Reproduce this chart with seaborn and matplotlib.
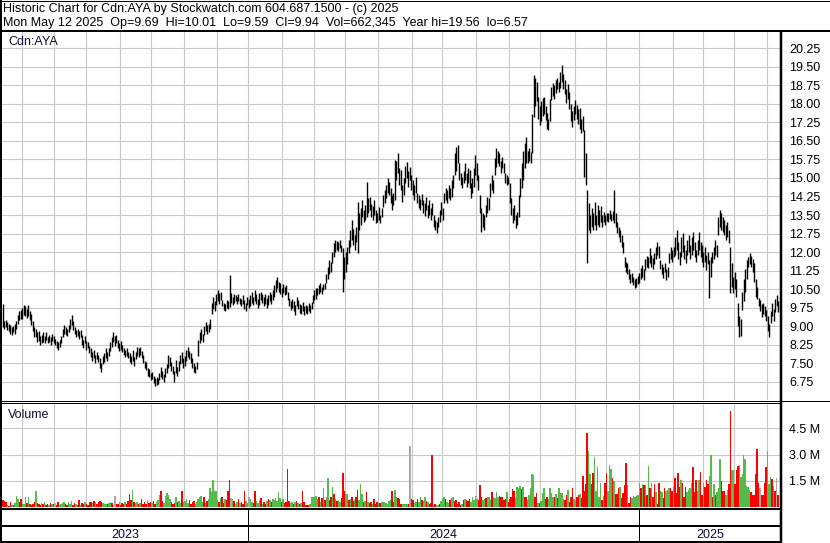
import numpy as np
import pandas as pd
import seaborn as sns
import matplotlib.pyplot as plt
from matplotlib.lines import Line2D

W, H = 830, 543  # output size in pixels

sns.set_style('white')
plt.rcParams['font.family'] = ['Liberation Sans', 'DejaVu Sans']

title_1 = 'Historic Chart for Cdn:AYA by Stockwatch.com 604.687.1500 - (c) 2025'
title_2 = ('Mon May 12 2025  Op=9.69  Hi=10.01  Lo=9.59  Cl=9.94  '
           'Vol=662,345  Year hi=19.56  lo=6.57')
symbol = 'Cdn:AYA'

# one bar per weekday, May 15 2023 .. May 12 2025
dates = pd.bdate_range('2023-05-15', '2025-05-12')

# daily low / high (C$)
low = [
    8.95, 8.90, 8.95, 8.85, 8.80, 8.70, 8.65, 8.75, 8.70, 8.90,
    9.10, 9.25, 9.30, 9.30, 9.45, 9.40, 9.35, 9.40, 9.25, 9.05,
    8.80, 8.57, 8.55, 8.35, 8.40, 8.25, 8.30, 8.35, 8.30, 8.45,
    8.30, 8.35, 8.25, 8.40, 8.30, 8.25, 8.10, 8.05, 8.15, 8.30,
    8.55, 8.70, 8.65, 8.60, 8.75, 8.90, 9.05, 8.85, 8.70, 8.55,
    8.60, 8.50, 8.55, 8.25, 8.10, 8.30, 8.05, 8.10, 7.90, 7.75,
    7.60, 7.70, 7.50, 7.65, 7.55, 7.30, 7.16, 7.45, 7.55, 7.70,
    7.60, 7.80, 8.00, 8.15, 8.35, 8.20, 8.30, 8.10, 8.00, 8.05,
    7.97, 7.85, 7.75, 7.80, 7.70, 7.55, 7.45, 7.60, 7.40, 7.65,
    7.80, 7.75, 7.85, 7.70, 7.50, 7.30, 7.22, 7.00, 6.95, 6.80,
    6.85, 6.70, 6.57, 6.62, 6.65, 6.80, 6.95, 6.85, 6.75, 6.95,
    7.10, 7.30, 7.40, 7.20, 7.05, 6.75, 7.10, 7.00, 7.20, 7.45,
    7.50, 7.30, 7.40, 7.60, 7.75, 7.65, 7.50, 7.30, 7.15, 7.09,
    7.25, 7.80, 8.30, 8.45, 8.35, 8.64, 8.80, 8.70, 8.75, 8.90,
    9.50, 9.70, 9.60, 9.86, 10.00, 9.90, 10.05, 9.80, 9.65, 9.60,
    9.75, 9.70, 9.79, 9.95, 9.86, 9.95, 10.00, 9.90, 10.00, 9.90,
    9.80, 9.90, 9.70, 9.60, 9.85, 9.75, 9.80, 9.95, 9.85, 10.00,
    9.90, 9.72, 9.85, 10.05, 9.95, 9.80, 9.90, 9.75, 9.85, 10.00,
    9.90, 10.05, 10.20, 10.40, 10.55, 10.40, 10.30, 10.20, 10.35, 10.25,
    10.30, 10.05, 9.80, 9.65, 9.75, 9.60, 9.45, 9.80, 9.70, 9.55,
    9.50, 9.60, 9.45, 9.55, 9.50, 9.60, 9.55, 9.70, 9.92, 10.05,
    10.10, 10.25, 10.30, 10.40, 10.30, 10.45, 10.50, 10.75, 10.90, 11.10,
    11.20, 11.54, 11.80, 12.00, 12.10, 12.05, 12.15, 12.02, 10.40, 10.90,
    11.20, 11.50, 11.95, 12.20, 12.50, 12.30, 12.10, 12.40, 11.95, 12.90,
    13.10, 13.40, 13.20, 13.30, 13.43, 13.60, 13.70, 13.40, 13.30, 13.50,
    13.16, 13.20, 13.30, 13.16, 13.40, 13.84, 14.00, 14.20, 14.40, 14.30,
    14.00, 13.70, 13.90, 14.10, 14.90, 15.20, 14.71, 14.50, 14.04, 14.30,
    14.80, 15.00, 14.65, 14.90, 14.50, 14.30, 14.10, 14.40, 14.00, 13.80,
    13.70, 13.90, 13.60, 13.45, 13.70, 13.37, 13.50, 13.30, 13.50, 13.00,
    12.90, 12.76, 13.00, 13.23, 13.50, 13.30, 13.97, 14.10, 14.00, 14.20,
    14.10, 14.24, 14.60, 15.12, 15.30, 15.59, 14.90, 14.70, 14.58, 14.80,
    14.90, 14.65, 14.80, 14.60, 14.17, 14.40, 14.65, 15.10, 14.90, 14.50,
    13.60, 12.83, 13.00, 12.90, 13.43, 13.60, 13.70, 14.24, 14.50, 14.40,
    15.10, 15.46, 15.60, 15.50, 15.19, 15.40, 15.20, 14.80, 14.71, 14.75,
    14.00, 13.50, 13.16, 13.30, 12.96, 13.10, 13.40, 14.24, 14.60, 14.92,
    15.40, 15.60, 15.59, 15.70, 15.60, 16.00, 17.48, 17.90, 18.10, 17.40,
    17.14, 17.30, 17.50, 17.60, 17.35, 17.00, 16.94, 17.30, 18.16, 18.30,
    18.20, 18.43, 18.60, 18.50, 18.63, 18.90, 18.60, 18.40, 18.02, 18.20,
    17.80, 17.30, 17.08, 17.35, 17.60, 17.40, 17.20, 17.00, 16.81, 16.90,
    15.05, 14.71, 11.54, 12.90, 12.76, 13.00, 12.90, 13.10, 12.89, 13.10,
    13.00, 13.20, 13.03, 13.20, 13.10, 13.25, 13.23, 13.35, 13.25, 13.30,
    13.16, 13.00, 12.76, 12.60, 12.40, 12.20, 11.95, 11.40, 11.20, 11.10,
    10.90, 10.73, 10.80, 10.65, 10.53, 10.60, 10.70, 10.75, 10.90, 11.00,
    10.85, 11.27, 11.40, 11.35, 11.55, 11.40, 11.30, 11.50, 11.70, 11.90,
    11.75, 11.30, 11.10, 10.95, 11.20, 10.87, 11.00, 11.54, 11.70, 11.60,
    11.80, 11.90, 12.10, 11.70, 11.47, 11.80, 12.00, 11.70, 11.54, 11.90,
    12.00, 11.70, 11.90, 12.10, 11.80, 11.60, 11.90, 12.10, 11.80, 11.60,
    11.40, 11.60, 11.27, 11.50, 10.13, 11.00, 11.54, 11.70, 11.90, 11.80,
    12.69, 13.00, 12.90, 12.80, 12.70, 12.50, 12.60, 12.35, 10.33, 10.60,
    10.33, 10.50, 10.20, 9.00, 8.57, 8.60, 9.65, 10.00, 10.40, 10.90,
    11.41, 11.50, 11.41, 11.20, 10.80, 10.20, 10.10, 9.80, 9.60, 9.38,
    9.50, 9.40, 9.20, 8.80, 8.57, 9.11, 9.40, 9.20, 9.59, 9.80,
    9.59,
]
high = [
    9.90, 9.20, 9.25, 9.15, 9.10, 9.05, 8.95, 9.00, 9.10, 9.20,
    9.45, 9.60, 9.65, 9.75, 9.86, 9.80, 9.70, 9.85, 9.60, 9.50,
    9.20, 8.95, 8.90, 8.75, 8.80, 8.60, 8.65, 8.78, 8.60, 8.75,
    8.55, 8.65, 8.55, 8.70, 8.60, 8.50, 8.40, 8.35, 8.45, 8.60,
    8.90, 9.05, 8.95, 8.90, 9.05, 9.30, 9.45, 9.20, 8.95, 8.85,
    8.90, 8.80, 8.85, 8.64, 8.45, 8.60, 8.40, 8.35, 8.20, 8.10,
    7.95, 8.05, 7.85, 7.95, 7.85, 7.70, 7.50, 7.80, 7.90, 8.10,
    7.95, 8.10, 8.35, 8.55, 8.78, 8.60, 8.65, 8.44, 8.30, 8.40,
    8.25, 8.10, 8.05, 8.10, 7.95, 7.90, 7.80, 8.03, 7.75, 7.95,
    8.17, 8.10, 8.15, 8.00, 7.83, 7.60, 7.55, 7.29, 7.25, 7.10,
    7.15, 7.00, 6.90, 6.96, 6.90, 7.10, 7.36, 7.20, 7.05, 7.30,
    7.45, 7.83, 7.75, 7.55, 7.40, 7.20, 7.63, 7.35, 7.60, 7.85,
    7.97, 7.70, 7.80, 8.05, 8.17, 8.00, 7.90, 7.70, 7.50, 7.40,
    7.55, 8.45, 8.75, 8.90, 8.70, 9.00, 9.18, 9.05, 9.10, 9.30,
    9.95, 10.20, 10.00, 10.30, 10.46, 10.35, 10.40, 10.06, 9.95, 9.90,
    10.05, 10.00, 11.07, 10.33, 10.20, 10.30, 10.25, 10.20, 10.30, 10.15,
    10.10, 10.26, 10.05, 9.95, 10.20, 10.10, 10.25, 10.40, 10.20, 10.46,
    10.30, 10.10, 10.35, 10.40, 10.30, 10.20, 10.30, 10.15, 10.25, 10.40,
    10.30, 10.45, 10.65, 10.85, 11.00, 10.80, 10.73, 10.55, 10.70, 10.60,
    10.65, 10.40, 10.15, 10.00, 10.10, 10.00, 9.85, 10.20, 10.05, 9.90,
    9.85, 9.99, 9.80, 9.85, 9.80, 9.95, 9.85, 9.99, 10.25, 10.45,
    10.53, 10.55, 10.65, 10.73, 10.60, 10.70, 10.75, 11.10, 11.40, 11.67,
    11.60, 12.00, 12.35, 12.49, 12.45, 12.40, 12.49, 12.30, 12.15, 11.80,
    12.00, 12.22, 12.50, 12.90, 13.30, 12.95, 12.70, 13.00, 14.04, 13.60,
    13.80, 14.10, 13.70, 13.90, 14.85, 14.20, 14.24, 13.95, 13.85, 14.10,
    13.70, 13.60, 13.84, 13.50, 13.80, 14.30, 14.50, 14.70, 14.98, 14.85,
    14.60, 14.30, 14.40, 15.73, 15.70, 16.00, 15.40, 15.32, 14.70, 15.00,
    15.50, 15.66, 15.30, 15.45, 15.12, 14.90, 14.70, 15.05, 14.38, 14.30,
    14.15, 14.35, 14.10, 14.00, 14.24, 13.90, 14.10, 13.80, 14.00, 13.50,
    13.30, 13.20, 13.40, 13.70, 14.04, 13.80, 14.40, 14.60, 14.50, 14.71,
    14.60, 14.90, 15.12, 16.00, 16.27, 16.33, 15.60, 15.19, 15.05, 15.30,
    15.59, 15.20, 15.40, 15.32, 14.80, 15.00, 15.40, 15.93, 15.60, 15.10,
    14.31, 13.80, 13.60, 13.50, 13.90, 14.24, 14.20, 14.80, 15.12, 14.90,
    15.80, 16.20, 16.10, 16.00, 15.70, 15.86, 15.60, 15.19, 15.10, 15.05,
    14.78, 14.20, 13.80, 13.90, 13.50, 13.64, 14.30, 15.00, 15.59, 16.10,
    16.40, 16.67, 16.10, 16.20, 16.05, 17.60, 19.17, 19.05, 18.90, 18.29,
    17.90, 18.10, 18.25, 18.29, 17.90, 17.62, 17.40, 18.20, 18.70, 18.83,
    18.75, 18.95, 19.03, 18.90, 19.30, 19.56, 19.20, 18.97, 18.60, 18.80,
    18.50, 18.00, 17.70, 17.90, 18.16, 17.95, 17.80, 17.82, 17.40, 17.50,
    16.94, 16.00, 14.51, 13.97, 13.50, 13.80, 13.60, 14.04, 13.50, 13.90,
    13.70, 13.85, 13.50, 13.64, 13.50, 13.60, 13.60, 13.70, 13.55, 13.65,
    14.51, 13.57, 13.20, 13.03, 12.90, 12.70, 12.40, 11.81, 11.60, 11.54,
    11.30, 11.10, 11.14, 11.00, 10.90, 10.95, 11.05, 11.15, 11.35, 11.47,
    11.30, 11.70, 11.85, 11.80, 12.15, 11.90, 11.75, 11.95, 12.20, 12.42,
    12.25, 11.68, 11.50, 11.40, 11.55, 11.30, 11.40, 11.95, 12.22, 12.10,
    12.20, 12.60, 12.89, 12.40, 12.00, 12.60, 12.76, 12.30, 12.10, 12.50,
    12.70, 12.30, 12.60, 12.82, 12.40, 12.10, 12.50, 12.80, 12.40, 12.29,
    12.00, 12.20, 11.90, 12.00, 11.68, 11.80, 12.00, 12.20, 12.49, 12.30,
    13.40, 13.70, 13.60, 13.40, 13.30, 13.10, 13.20, 12.90, 12.22, 11.54,
    11.00, 11.20, 10.90, 9.92, 9.40, 9.30, 10.40, 10.90, 11.30, 11.68,
    11.80, 11.95, 11.85, 11.70, 11.54, 10.90, 10.60, 10.13, 10.05, 9.90,
    9.95, 9.80, 9.65, 9.40, 9.10, 9.60, 9.92, 9.70, 10.10, 10.26,
    10.01,
]

# daily volume, millions of shares
volume = [
    0.42, 0.35, 0.28, 0.12, 0.08, 0.30, 0.14, 0.10, 0.25, 0.65,
    0.45, 0.30, 0.45, 0.20, 0.15, 0.55, 0.22, 0.60, 0.18, 0.12,
    0.20, 0.30, 0.90, 0.25, 0.18, 0.10, 0.22, 0.15, 0.28, 0.12,
    0.18, 0.10, 0.25, 0.15, 0.20, 0.22, 0.12, 0.30, 0.14, 0.20,
    0.25, 0.30, 0.15, 0.10, 0.28, 0.20, 0.32, 0.12, 0.22, 0.15,
    0.12, 0.38, 0.10, 0.24, 0.15, 0.28, 0.20, 0.10, 0.26, 0.30,
    0.22, 0.35, 0.30, 0.18, 0.28, 0.35, 0.30, 0.25, 0.15, 0.20,
    0.18, 0.22, 0.30, 0.25, 0.12, 0.65, 0.20, 0.15, 0.28, 0.10,
    0.25, 0.15, 0.30, 0.20, 0.35, 0.75, 0.40, 0.95, 0.30, 0.22,
    0.30, 0.18, 0.25, 0.45, 0.20, 0.28, 0.15, 0.40, 0.25, 0.30,
    0.22, 0.35, 0.20, 0.28, 0.40, 0.70, 0.90, 0.35, 0.25, 0.65,
    0.80, 0.70, 0.45, 0.30, 0.20, 0.25, 0.55, 0.30, 0.35, 0.25,
    0.90, 0.30, 0.35, 0.45, 0.25, 0.40, 0.20, 0.30, 0.35, 0.15,
    0.30, 0.45, 0.55, 0.65, 0.30, 0.60, 0.25, 0.35, 0.45, 1.10,
    0.85, 1.52, 0.90, 0.94, 0.40, 0.30, 0.50, 0.60, 0.25, 0.45,
    0.40, 0.94, 1.52, 0.50, 0.45, 0.35, 0.20, 0.30, 0.45, 0.25,
    0.30, 0.20, 0.90, 0.35, 0.25, 0.55, 0.45, 0.30, 0.25, 0.90,
    0.35, 0.25, 0.40, 0.50, 0.20, 0.30, 0.15, 0.35, 0.45, 0.40,
    0.30, 0.45, 0.40, 0.50, 0.35, 0.83, 0.50, 0.30, 0.45, 0.25,
    0.30, 2.15, 0.37, 0.25, 0.30, 0.20, 0.28, 0.35, 0.22, 0.18,
    0.25, 0.94, 0.30, 0.12, 0.10, 0.12, 0.20, 0.55, 0.60, 0.55,
    0.65, 0.45, 0.55, 0.30, 0.50, 1.10, 0.40, 0.60, 1.63, 0.40,
    0.55, 1.17, 0.77, 0.45, 0.35, 0.40, 0.30, 0.50, 1.92, 0.94,
    0.77, 0.75, 0.40, 0.45, 0.60, 0.35, 0.40, 0.55, 1.00, 0.40,
    1.29, 0.77, 0.30, 0.35, 0.85, 0.30, 0.25, 0.30, 0.20, 0.45,
    0.15, 0.30, 0.25, 0.22, 0.30, 0.28, 0.30, 0.25, 0.20, 0.35,
    0.40, 0.94, 0.30, 1.00, 0.55, 0.50, 0.45, 0.20, 0.20, 0.18,
    0.20, 0.15, 0.20, 3.48, 0.45, 0.40, 0.25, 0.30, 0.45, 0.30,
    0.55, 0.40, 0.35, 0.55, 0.35, 0.30, 0.20, 0.25, 3.00, 0.12,
    0.15, 0.12, 0.10, 0.20, 0.35, 0.50, 0.60, 0.45, 0.30, 0.25,
    0.40, 0.50, 0.55, 0.35, 0.40, 0.20, 0.30, 0.10, 0.20, 0.40,
    0.45, 0.40, 0.35, 0.45, 0.30, 0.55, 0.40, 0.65, 0.45, 0.40,
    1.23, 0.55, 0.40, 0.45, 0.50, 0.55, 0.60, 0.40, 0.88, 0.55,
    0.50, 0.88, 0.60, 0.62, 0.55, 0.60, 0.40, 0.45, 0.83, 0.30,
    0.45, 0.60, 1.04, 0.90, 0.50, 1.17, 1.10, 1.20, 1.05, 1.15,
    0.60, 0.55, 0.40, 0.70, 1.10, 1.90, 1.85, 0.55, 0.80, 0.25,
    0.25, 0.35, 0.80, 1.06, 0.45, 0.55, 0.45, 1.06, 0.80, 0.55,
    0.55, 0.75, 0.50, 1.10, 0.80, 0.80, 0.45, 0.40, 0.70, 0.95,
    0.30, 0.55, 1.10, 0.45, 0.40, 0.55, 0.70, 0.77, 0.54, 1.75,
    0.90, 1.30, 4.23, 3.19, 1.87, 1.29, 1.94, 2.85, 0.90, 2.27,
    0.60, 1.40, 0.42, 0.65, 1.35, 1.94, 0.90, 2.38, 2.15, 1.63,
    1.46, 0.77, 0.77, 1.10, 1.17, 0.50, 0.80, 1.23, 2.50, 1.23,
    0.25, 0.60, 0.50, 0.65, 0.55, 0.65, 0.70, 1.40, 1.06, 1.29,
    1.23, 1.23, 0.70, 2.33, 1.10, 1.35, 0.60, 1.29, 0.88, 0.20,
    1.35, 0.94, 0.83, 0.50, 1.06, 0.94, 1.00, 1.10, 1.06, 0.90,
    1.17, 1.63, 0.80, 1.92, 1.17, 1.52, 1.40, 0.60, 1.17, 0.83,
    1.00, 1.06, 1.40, 2.27, 0.83, 1.52, 0.94, 1.52, 1.98, 0.70,
    1.40, 1.17, 1.52, 1.29, 1.80, 2.96, 0.60, 1.29, 0.70, 0.88,
    1.10, 2.73, 1.46, 0.94, 0.94, 0.70, 1.00, 1.29, 5.50, 2.10,
    2.10, 1.29, 2.10, 2.33, 2.38, 1.69, 1.87, 2.96, 2.73, 1.20,
    1.17, 1.00, 0.88, 0.70, 0.70, 1.87, 3.30, 1.40, 1.06, 0.70,
    0.70, 1.40, 2.27, 3.19, 1.30, 1.69, 1.58, 1.20, 0.90, 1.63,
    0.66,
]
# g = up day, r = down day, n = unchanged
vol_dir = (
    'rrrgrrgrgg' 'grrgggrgrr' 'rrgrrrgrgr' 'rgrgrnrrgg' 'ggrrgggrrg'
    'rrgrrgrrrr' 'grgrrrrggg' 'rggrgnrrgr' 'rrgrrrrgrg' 'grgrrrrgrr'
    'grrgggrrgg' 'gggrrrgrgg' 'rggggrrrrg' 'gggggrgrgg' 'gggggrgrrg'
    'rrrngrggrg' 'rrrggnggrr' 'gggrgrrgrg' 'rggggggrgr' 'rrrggrgrgr'
    'grrrrrgggg' 'ggrgrgrggr' 'rgrgrggrrr' 'ggrgrrgrrg' 'ggrgrgrrgr'
    'rrgrgggggg' 'grrggrrrgg' 'ggrnrrggrg' 'grggrgrrrg' 'rggrgggrgg'
    'rggrrrrrgr' 'grrrgggggr' 'rrggrgggrg' 'gggrrrrrgr' 'rrrrggggrg'
    'rrgggggrrg' 'rgggrrgggg' 'rgrggggrrg' 'rrrggrrgrr' 'rrrggrrggg'
    'ggrgrrgggr' 'grrrgrrrrg' 'rrggggggrg' 'rgrgrgrrgr' 'rggrrgggrr'
    'grrrrgrrrg' 'gggrrrggrr' 'grrrggrgrg' 'ggrrrggrrg' 'grrrgggggg'
    'ggrrrrrrnr' 'rrrgggrgrn' 'r'
)

price_ticks = [6.75, 7.50, 8.25, 9.00, 9.75, 10.50, 11.25, 12.00, 12.75, 13.50,
               14.25, 15.00, 15.75, 16.50, 17.25, 18.00, 18.75, 19.50, 20.25]
volume_ticks = [1.5, 3.0, 4.5]
years = ['2023', '2024', '2025']

n = len(dates)
assert len(low) == len(high) == len(volume) == len(vol_dir) == n
x = np.arange(n)

# month starts give the vertical grid, year starts the dividers underneath
month_pos = [i - 0.5 for i in range(1, n) if dates[i].month != dates[i - 1].month]
year_pos = [i - 0.5 for i in range(1, n) if dates[i].year != dates[i - 1].year]

XLIM = (-0.67, n + 1.0)
GRID = '#c8c8c8'
FS = 9.0


def box(x0, y0, x1, y1):
    # pixel box (top-left origin) -> figure fraction rect
    return [x0 / W, 1 - y1 / H, (x1 - x0) / W, (y1 - y0) / H]


def px_line(xs, ys, lw=1.0, color='black'):
    fig.add_artist(Line2D([v / W for v in xs], [1 - v / H for v in ys],
                          color=color, lw=lw * 0.72, solid_capstyle='butt'))


def px_text(px, py, s, color='black', **kw):
    fig.text(px / W, 1 - py / H, s, fontsize=FS, color=color, va='center', **kw)


def to_px(i):
    return 2 + (i - XLIM[0]) / (XLIM[1] - XLIM[0]) * 779


fig = plt.figure(figsize=(W / 100, H / 100), dpi=100)
fig.patch.set_facecolor('white')

# price panel
ax = fig.add_axes(box(2, 32, 781, 400))
ax.vlines(x, low, high, color='black', lw=1.0)
ax.set_xlim(*XLIM)
ax.set_ylim(6.01, 20.91)
ax.set_xticks(month_pos)
ax.set_yticks(price_ticks)
ax.set_yticklabels([f'{t:.2f}' for t in price_ticks])
ax.yaxis.tick_right()
ax.tick_params(length=0, labelbottom=False, labelsize=FS, labelcolor='black', pad=6)
ax.grid(True, color=GRID, lw=0.8)
ax.set_axisbelow(True)
for s in ax.spines.values():
    s.set_visible(False)
ax.text(0.008, 0.973, symbol, transform=ax.transAxes, fontsize=FS,
        color='#101030', va='center')

# volume panel
vol_df = pd.DataFrame({'day': x, 'volume': volume, 'dir': list(vol_dir)})
axv = fig.add_axes(box(2, 402, 781, 507))
sns.barplot(data=vol_df, x='day', y='volume', hue='dir',
            palette={'g': '#55BC4B', 'r': '#FF0000', 'n': '#A8A8A8'},
            native_scale=True, dodge=False, width=1.0, saturation=1,
            errorbar=None, legend=False, linewidth=0, ax=axv)
axv.set_xlim(*XLIM)
axv.set_ylim(0, 6.0)
axv.set_xticks(month_pos)
axv.set_yticks(volume_ticks)
axv.set_yticklabels([f'{t:.1f} M' for t in volume_ticks])
axv.yaxis.tick_right()
axv.tick_params(length=0, labelbottom=False, labelsize=FS, labelcolor='black', pad=6)
axv.set_xlabel('')
axv.set_ylabel('')
axv.grid(True, color=GRID, lw=0.8)
axv.set_axisbelow(True)
for s in axv.spines.values():
    s.set_visible(False)
axv.text(0.008, 0.88, 'Volume', transform=axv.transAxes, fontsize=FS,
         color='#101030', va='center')

# frame lines
px_line([0, W], [0.5, 0.5], 1)
px_line([0, W], [31, 31], 2)
px_line([0, W], [400.5, 400.5], 1)
px_line([0, 781], [402.5, 402.5], 1)
px_line([0, 782], [509, 509], 2)
px_line([0, 782], [526, 526], 2)
px_line([0, 782], [542, 542], 2)
px_line([1, 1], [0, H], 2)
px_line([781, 781], [31, H], 2.5)

# year strip under the chart
edges = [2] + [to_px(p) for p in year_pos] + [781]
for e in edges[1:-1]:
    px_line([e, e], [509, 542], 1)
for k, yr in enumerate(years):
    px_text((edges[k] + edges[k + 1]) / 2, 534.5, yr, color='#0a0a3c', ha='center')

# header
px_text(3, 9, title_1)
px_text(3, 23, title_2)

fig.savefig('out.png', dpi=100, facecolor='white')
